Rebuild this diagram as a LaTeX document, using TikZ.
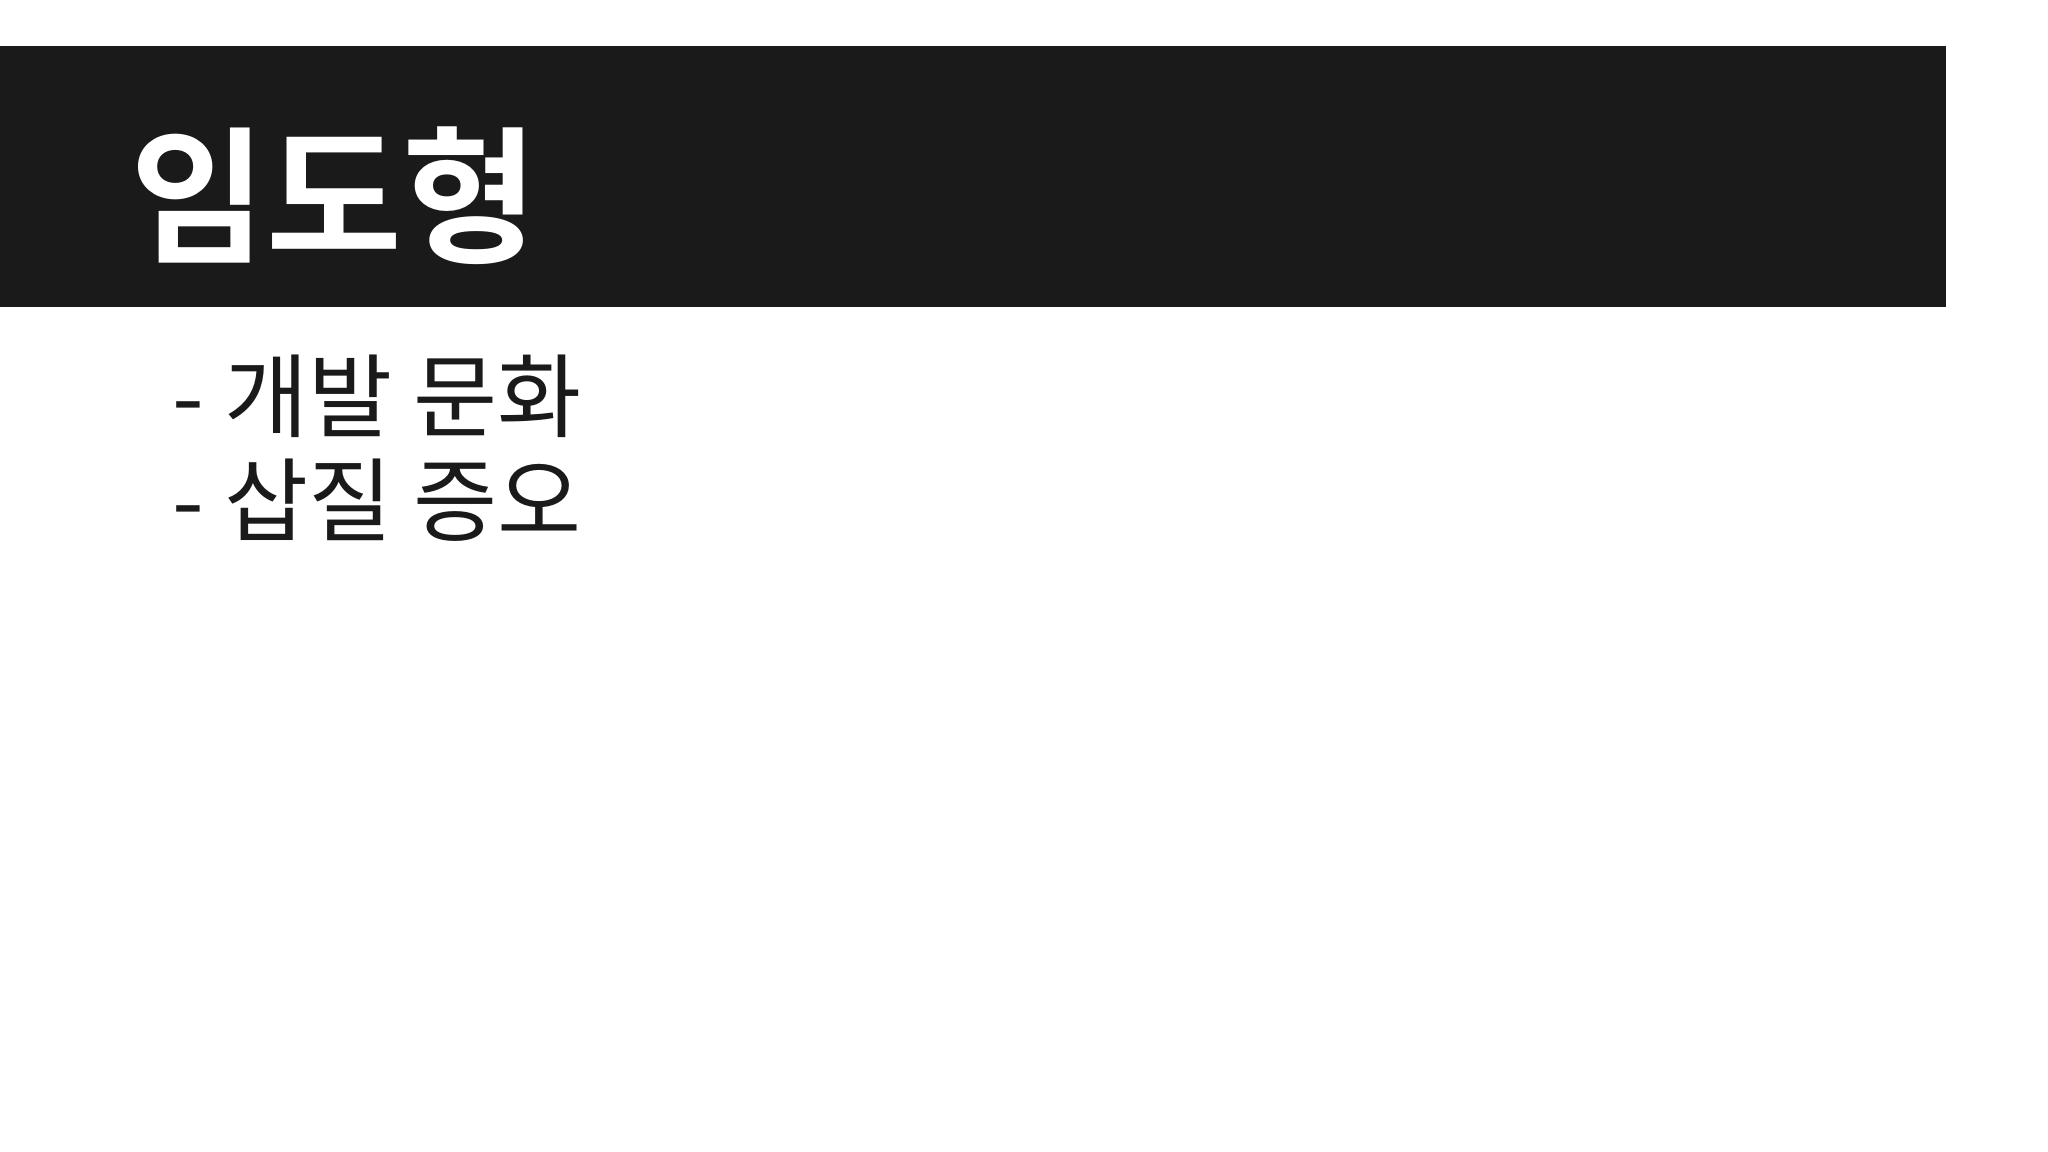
\documentclass[tikz,border=0pt]{standalone}
\usepackage{fontspec}
\newfontfamily\kr{Noto Sans CJK KR}
\newfontfamily\krb{Noto Sans CJK KR Bold}
\definecolor{band}{HTML}{1A1A1A}
\begin{document}
\begin{tikzpicture}
\useasboundingbox[fill=white] (0,0) rectangle (20.48,11.52);
\fill[band] (0,8.45) rectangle (19.46,11.06);
\node[anchor=west,text=white,font=\krb\fontsize{42}{48}\selectfont,inner sep=0] (title) at (1.30,9.56) {임도형};
\node[anchor=west,text=band,font=\kr\fontsize{26}{30}\selectfont,inner sep=0] (l1) at (1.72,7.56) {- 개발 문화};
\node[anchor=west,text=band,font=\kr\fontsize{26}{30}\selectfont,inner sep=0] (l2) at (1.72,6.52) {- 삽질 증오};
\end{tikzpicture}
\end{document}
